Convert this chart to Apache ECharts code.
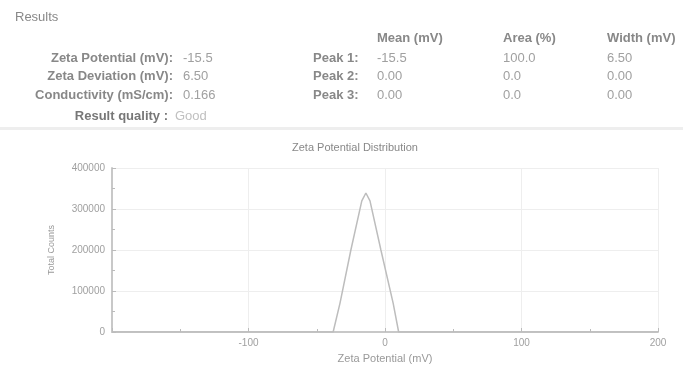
<!DOCTYPE html>
<html>
<head>
<meta charset="utf-8">
<script src="https://cdn.jsdelivr.net/npm/echarts@6/dist/echarts.min.js"></script>
<style>html,body{margin:0;padding:0;background:#fff}#c{width:683px;height:370px}</style>
</head>
<body>
<div id="c"></div>
<script>
// ---- data ----
const summaryLabels = ['Zeta Potential (mV):', 'Zeta Deviation (mV):', 'Conductivity (mS/cm):'];
const summaryValues = ['-15.5', '6.50', '0.166'];
const peakHeaders = ['Mean (mV)', 'Area (%)', 'Width (mV)'];
const peakLabels = ['Peak 1:', 'Peak 2:', 'Peak 3:'];
const peakMean = ['-15.5', '0.00', '0.00'];
const peakArea = ['100.0', '0.0', '0.0'];
const peakWidth = ['6.50', '0.00', '0.00'];
const qualityLabel = 'Result quality :';
const qualityValue = 'Good';
const zetaX = [-200, -38, -33, -25, -17, -14, -11, -3, 6, 10, 200];
const counts = [0, 0, 70000, 200000, 320000, 339000, 320000, 200000, 70000, 0, 0];
const xTicks = [-200, -100, 0, 100, 200];
const yTicks = [0, 100000, 200000, 300000, 400000];

const FONT = 'Liberation Sans, Arial, sans-serif';
const chart = echarts.init(document.getElementById('c'));

const g = [];
g.push({type:'text', x:15, y:17, style:{text:'Results', font:'13px ' + FONT, fill:'#888', verticalAlign:'middle'}});
const rowY = [58, 76, 95];
function txt(x, y, s, align, color, bold) {
  return {type:'text', x:x, y:y, style:{text:s, font:(bold?'bold ':'') + '13px ' + FONT, fill:color, align:align, verticalAlign:'middle'}};
}
summaryLabels.forEach((s,i)=>{ g.push(txt(173, rowY[i], s, 'right', '#888', true)); g.push(txt(183, rowY[i], summaryValues[i], 'left', '#a0a0a0', false)); });
g.push(txt(168, 116, qualityLabel, 'right', '#777', true));
g.push(txt(175, 116, qualityValue, 'left', '#c0c0c0', false));
const colX = [377, 503, 607];
peakHeaders.forEach((s,i)=> g.push(txt(colX[i], 38, s, 'left', '#888', true)));
peakLabels.forEach((s,i)=>{
  g.push(txt(313, rowY[i], s, 'left', '#888', true));
  g.push(txt(colX[0], rowY[i], peakMean[i], 'left', '#a0a0a0', false));
  g.push(txt(colX[1], rowY[i], peakArea[i], 'left', '#a0a0a0', false));
  g.push(txt(colX[2], rowY[i], peakWidth[i], 'left', '#a0a0a0', false));
});
g.push({type:'rect', shape:{x:0, y:127, width:683, height:3}, style:{fill:'#eeeeee'}});

chart.setOption({
  animation:false,
  backgroundColor:'#fff',
  title:{text:'Zeta Potential Distribution', left:287, top:137, textStyle:{fontSize:11, fontWeight:'normal', color:'#888', fontFamily:FONT}},
  graphic:g,
  grid:{left:112, right:25, top:168, bottom:38},
  xAxis:{type:'value', min:xTicks[0], max:xTicks[xTicks.length-1], interval:100,
    name:'Zeta Potential (mV)', nameLocation:'middle', nameGap:21,
    nameTextStyle:{fontSize:11, color:'#999', fontFamily:FONT},
    axisLine:{onZero:false, lineStyle:{color:'#c8c8c8', width:2}},
    axisTick:{show:true, inside:true, length:4, lineStyle:{color:'#bbb'}},
    minorTick:{show:true, splitNumber:2, length:3, lineStyle:{color:'#bbb'}},
    axisLabel:{showMinLabel:false, fontSize:10, color:'#a0a0a0', fontFamily:FONT, margin:6},
    splitLine:{show:true, lineStyle:{color:'#eee'}}},
  yAxis:{type:'value', min:yTicks[0], max:yTicks[yTicks.length-1], interval:100000,
    name:'Total Counts', nameLocation:'middle', nameGap:56, nameRotate:90,
    nameTextStyle:{fontSize:9, color:'#999', fontFamily:FONT},
    axisLine:{show:true, onZero:false, lineStyle:{color:'#c8c8c8', width:2}},
    axisTick:{show:true, inside:true, length:4, lineStyle:{color:'#bbb'}},
    minorTick:{show:true, splitNumber:2, length:3, lineStyle:{color:'#bbb'}},
    axisLabel:{fontSize:10, color:'#a0a0a0', fontFamily:FONT, margin:7, formatter:v=>String(v)},
    splitLine:{show:true, lineStyle:{color:'#eee'}}},
  series:[{type:'line', data:zetaX.map((x,i)=>[x, counts[i]]), symbol:'none',
    lineStyle:{color:'#bdbdbd', width:1.5}}]
});
</script>
</body>
</html>
